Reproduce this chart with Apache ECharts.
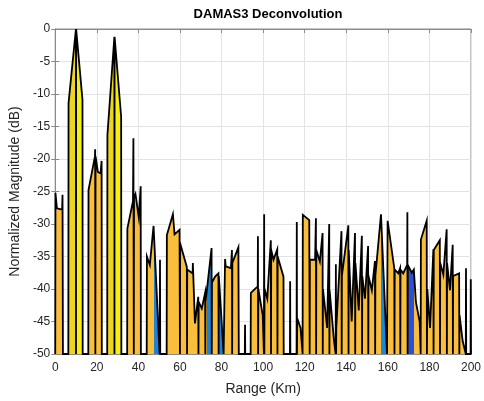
<!DOCTYPE html>
<html>
<head>
<meta charset="utf-8">
<script src="https://cdn.jsdelivr.net/npm/echarts@6/dist/echarts.min.js"></script>
<style>
  html, body { margin: 0; padding: 0; background: #fff; }
  #chart { width: 484px; height: 401px; }
</style>
</head>
<body>
<div id="chart"></div>
<script>
// Deconvolved range profile: trace vertices (range in km, magnitude in dB).
// Repeated ranges with a -50 dB value draw the narrow drop lines to the floor.
const rangeKm = [
  0, 0.1, 0.8, 3.3, 3.5, 3.7,
  6.3, 6.4, 9.95, 10, 10.05, 13.1, 13.2,
  15.9, 16, 19.1, 19.2, 19.3, 19.4, 20.5, 21.8, 22.3, 22.4,
  25, 25.1, 28.45, 28.5, 28.55, 31.7, 31.8,
  34.6, 34.7, 37.4, 37.6, 37.8, 37.9, 38.6, 40.2, 41.1, 41.2,
  44, 44.1, 45.5, 47.3, 50.2, 50.4, 50.5,
  53.6, 53.7, 56.6, 57.4, 59.8, 60, 60.1, 63.3, 63.4, 63.5, 66.1, 66.2, 67.2, 68.8, 68.9, 69,
  70.5, 72.1, 72.2, 72.3, 75.2, 75.3, 75.4, 76.9, 78.5, 78.6, 78.7, 80.1, 81, 81.6, 81.7, 82,
  84.5, 85, 85.1, 85.2, 88.1, 88.3,
  91.2, 91.3, 91.4, 94, 94.1, 97.4, 97.5, 97.6, 97.7, 99.8, 100.4, 100.5, 100.6, 100.7, 102,
  103.7, 103.8, 103.9, 105, 106.8, 106.9, 107, 109.8, 109.9,
  112.9, 113, 113.1, 116.1, 116.2, 116.3, 116.4, 118, 119, 119.1, 122.2, 122.3, 122.4, 122.5,
  125, 125.4, 125.5, 125.6, 127.3, 128.6, 128.7, 128.8, 130.8, 131.8, 131.9, 132, 134.1, 134.9,
  135, 135.1, 135.2, 137.7, 137.8, 137.9, 141, 141.1, 141.2, 142.6, 144.2, 144.3, 144.4, 146,
  147.5, 147.6, 147.7, 149, 150.5, 150.6, 150.7, 152.3, 153.8, 153.9, 154, 156.7, 159.6, 159.8,
  159.9, 163.1, 163.2, 163.3, 165, 165.9, 166, 166.1, 167.4, 169.3, 169.4, 169.5, 169.6, 171.5,
  172.5, 173.5, 175.3, 175.8, 175.9, 178.7, 178.8, 179, 180.3, 181.9, 182, 182.1, 185, 185.1,
  185.2, 186.7, 188.3, 188.4, 188.5, 189.9, 191.2, 191.3, 191.4, 194.3, 194.4, 194.5, 196, 197.5,
  197.6, 197.7, 199.8, 199.9, 200
];
const magnitudeDb = [
  -50, -25.2, -27.6, -27.8, -25.5, -50,
  -50, -11.4, 0, -50, 0, -10.9, -50,
  -50, -24.8, -19.6, -18.5, -50, -19.6, -22, -22.2, -20.3, -50,
  -50, -16.3, -1.2, -50, -1.2, -13.5, -50,
  -50, -30.7, -26.5, -16.8, -50, -26, -25.4, -29, -24.2, -50,
  -50, -35, -36.3, -30.3, -50, -35.5, -50,
  -50, -31.7, -28.5, -31.6, -30.9, -50, -33, -36.6, -50, -37, -37.6, -36, -45.3, -41.2, -50, -42,
  -43, -40.6, -50, -42, -33.7, -50, -39, -38.1, -37.6, -50, -38, -45.3, -50, -50, -35.4, -36.5,
  -36.8, -34, -50, -36, -33.6, -50,
  -50, -45.5, -50, -50, -40.6, -39.6, -31.9, -50, -40, -44, -50, -28.5, -50, -40, -41.5,
  -32.5, -50, -34, -35.5, -33.9, -50, -35, -38.1, -50,
  -50, -38.8, -50, -50, -29.7, -50, -44.5, -46, -50, -28.6, -29.4, -29.2, -50, -35.5,
  -35.5, -29.1, -50, -34, -35.8, -31.4, -50, -40, -46, -30, -50, -40.2, -48, -50,
  -36.2, -50, -46, -31.1, -50, -38, -30.2, -50, -34, -45, -31.4, -50, -36, -43.3,
  -31.8, -50, -38, -41.5, -33.4, -50, -38, -40.2, -35.7, -50, -38, -28.5, -50, -50,
  -29.5, -36.8, -50, -37, -37.6, -36.8, -50, -37, -37.6, -36.3, -28.2, -50, -36.3, -37.5,
  -37, -42, -45, -50, -32.4, -29.5, -50, -40, -46, -33.9, -50, -34, -32.5, -50,
  -36, -37.8, -30.8, -50, -36, -40.2, -33.2, -50, -38, -37.6, -50, -44, -48, -50,
  -36.8, -50, -50, -38.5, -50
];

// Axis ticks
const rangeTicks = [0, 20, 40, 60, 80, 100, 120, 140, 160, 180, 200];
const magnitudeTicks = [-50, -45, -40, -35, -30, -25, -20, -15, -10, -5, 0];

// Fill colours along range (km); everything else uses the warm default fill
const fillBands = [
  { min: 6.3, max: 10, color: '#EDD41F' },
  { min: 10, max: 13.2, color: '#F7EF10' },
  { min: 25, max: 28.5, color: '#EDD41F' },
  { min: 28.5, max: 31.8, color: '#F7EF10' },
  { min: 47.3, max: 50.2, color: '#1C82D6' },
  { min: 72.9, max: 75.3, color: '#1C82D6' },
  { min: 78.5, max: 81, color: '#1C82D6' },
  { min: 156.7, max: 159.6, color: '#1C86D8' },
  { min: 169.4, max: 172.4, color: '#2C50CF' }
];
const defaultFill = '#F9BE3C';

const points = rangeKm.map((r, i) => [r, magnitudeDb[i]]);

const FONT = '"Liberation Sans", Arial, Helvetica, sans-serif';
const AXIS_GRAY = '#8a8a8a';
const TEXT = '#262626';

const chart = echarts.init(document.getElementById('chart'), null, { renderer: 'canvas' });

const xStep = rangeTicks[1] - rangeTicks[0];
const yStep = magnitudeTicks[1] - magnitudeTicks[0];

chart.setOption({
  animation: false,
  backgroundColor: '#fff',
  title: {
    text: 'DAMAS3 Deconvolution',
    left: 263,
    textAlign: 'center',
    top: 3,
    textStyle: { fontFamily: FONT, fontSize: 13, fontWeight: 'bold', color: '#000' }
  },
  grid: {
    left: 55, right: 13, top: 29, bottom: 47,
    show: true, borderColor: AXIS_GRAY, borderWidth: 1, backgroundColor: '#fff'
  },
  visualMap: {
    type: 'piecewise',
    show: false,
    dimension: 0,
    seriesIndex: 0,
    pieces: fillBands.map(b => ({ min: b.min, max: b.max, color: b.color })),
    outOfRange: { color: defaultFill }
  },
  xAxis: [
    {
      type: 'value',
      min: rangeTicks[0], max: rangeTicks[rangeTicks.length - 1], interval: xStep,
      name: 'Range (Km)', nameLocation: 'middle', nameGap: 28,
      nameTextStyle: { fontFamily: FONT, fontSize: 14, color: TEXT },
      axisLine: { show: true, onZero: false, lineStyle: { color: AXIS_GRAY } },
      axisTick: { show: true, inside: true, length: 4, lineStyle: { color: AXIS_GRAY } },
      axisLabel: { fontFamily: FONT, fontSize: 12, color: TEXT, margin: 8 },
      splitLine: { show: true, lineStyle: { color: '#e3e3e3', width: 1 } }
    },
    {
      type: 'value', position: 'top',
      min: rangeTicks[0], max: rangeTicks[rangeTicks.length - 1], interval: xStep,
      axisLine: { show: true, lineStyle: { color: AXIS_GRAY } },
      axisTick: { show: true, inside: true, length: 4, lineStyle: { color: AXIS_GRAY } },
      axisLabel: { show: false },
      splitLine: { show: false }
    }
  ],
  yAxis: [
    {
      type: 'value',
      min: magnitudeTicks[0], max: magnitudeTicks[magnitudeTicks.length - 1], interval: yStep,
      name: 'Normalized Magnitude (dB)', nameLocation: 'middle', nameGap: 27,
      nameTextStyle: { fontFamily: FONT, fontSize: 14, color: TEXT },
      axisLine: { show: true, lineStyle: { color: AXIS_GRAY } },
      axisTick: { show: true, inside: true, length: 4, lineStyle: { color: AXIS_GRAY } },
      axisLabel: { fontFamily: FONT, fontSize: 12, color: TEXT, margin: 5 },
      splitLine: { show: true, lineStyle: { color: '#e3e3e3', width: 1 } }
    },
    {
      type: 'value', position: 'right',
      min: magnitudeTicks[0], max: magnitudeTicks[magnitudeTicks.length - 1], interval: yStep,
      axisLine: { show: true, lineStyle: { color: AXIS_GRAY } },
      axisTick: { show: true, inside: true, length: 4, lineStyle: { color: AXIS_GRAY } },
      axisLabel: { show: false },
      splitLine: { show: false }
    }
  ],
  series: [
    {
      name: 'Magnitude',
      type: 'line',
      xAxisIndex: 0,
      yAxisIndex: 0,
      data: points,
      showSymbol: false,
      symbol: 'none',
      smooth: false,
      sampling: null,
      clip: true,
      lineStyle: { color: '#000', width: 1.8, join: 'miter' },
      areaStyle: { origin: 'start', opacity: 1 },
      z: 3
    }
  ]
});
</script>
</body>
</html>
